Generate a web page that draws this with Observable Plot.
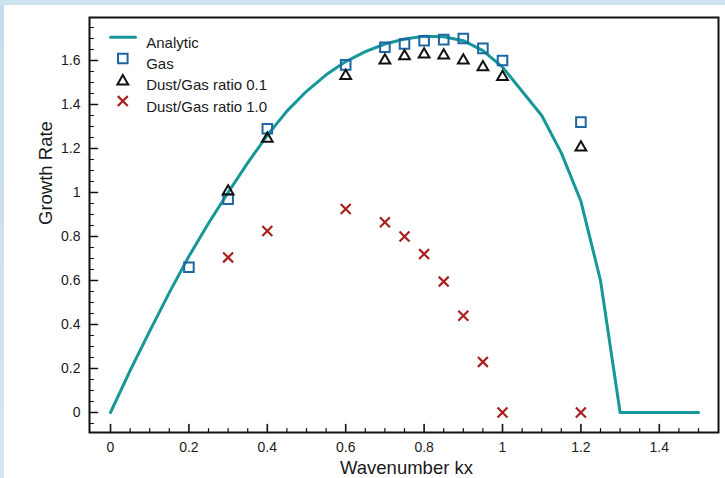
<!DOCTYPE html>
<html>
<head>
<meta charset="utf-8">
<script src="https://cdn.jsdelivr.net/npm/d3@7"></script>
<script src="https://cdn.jsdelivr.net/npm/@observablehq/plot@0.6"></script>
<style>
  html, body { margin: 0; padding: 0; }
  body { width: 725px; height: 478px; overflow: hidden; background: #fff; }
  #chart svg {
    display: block;
    background:
      linear-gradient(#cde2ef, #cde2ef) top left / 100% 5px no-repeat,
      linear-gradient(#c6dcec, #d4e6f1) top left / 4px 100% no-repeat,
      #fff;
  }
</style>
</head>
<body>
<div id="chart"></div>
<script>
// Analytic growth-rate curve, sampled every 0.05 in kx
const analyticKx = [0, 0.05, 0.1, 0.15, 0.2, 0.25, 0.3, 0.35, 0.4, 0.45, 0.5, 0.55, 0.6, 0.65, 0.7, 0.75,
  0.8, 0.85, 0.9, 0.95, 1.0, 1.05, 1.1, 1.15, 1.2, 1.25, 1.3, 1.35, 1.4, 1.45, 1.5];
const analyticRate = [0, 0.19, 0.37, 0.545, 0.71, 0.86, 1.0, 1.135, 1.26, 1.37, 1.46, 1.535, 1.595, 1.64, 1.675, 1.698,
  1.71, 1.708, 1.69, 1.645, 1.57, 1.46, 1.35, 1.18, 0.96, 0.60, 0, 0, 0, 0, 0];

// Simulation results
const gasKx = [0.2, 0.3, 0.4, 0.6, 0.7, 0.75, 0.8, 0.85, 0.9, 0.95, 1.0, 1.2];
const gasRate = [0.66, 0.97, 1.29, 1.58, 1.66, 1.675, 1.69, 1.695, 1.70, 1.655, 1.60, 1.32];

const dust01Kx = [0.3, 0.4, 0.6, 0.7, 0.75, 0.8, 0.85, 0.9, 0.95, 1.0, 1.2];
const dust01Rate = [1.005, 1.245, 1.53, 1.60, 1.62, 1.628, 1.623, 1.60, 1.57, 1.525, 1.205];

const dust1Kx = [0.3, 0.4, 0.6, 0.7, 0.75, 0.8, 0.85, 0.9, 0.95, 1.0, 1.2];
const dust1Rate = [0.705, 0.825, 0.925, 0.865, 0.80, 0.72, 0.595, 0.44, 0.23, 0, 0];

// Axis ticks and labels
const xTicks = [0, 0.2, 0.4, 0.6, 0.8, 1, 1.2, 1.4];
const xTickLabels = ["0", "0.2", "0.4", "0.6", "0.8", "1", "1.2", "1.4"];
const yTicks = [0, 0.2, 0.4, 0.6, 0.8, 1, 1.2, 1.4, 1.6];
const yTickLabels = ["0", "0.2", "0.4", "0.6", "0.8", "1", "1.2", "1.4", "1.6"];
const xMinor = d3.range(0, 31).filter(i => i % 4 !== 0).map(i => i / 20);
const yMinor = d3.range(-1, 36).filter(i => i % 4 !== 0).map(i => i / 20);

const legendLabels = ["Analytic", "Gas", "Dust/Gas ratio 0.1", "Dust/Gas ratio 1.0"];

const teal = "#179797";
const blue = "#1d66a4";
const red = "#a82020";
const ink = "#111";

const toRows = (xs, ys) => xs.map((x, i) => ({x, y: ys[i]}));
const analytic = toRows(analyticKx, analyticRate);
const gas = toRows(gasKx, gasRate);
const dust01 = toRows(dust01Kx, dust01Rate);
const dust1 = toRows(dust1Kx, dust1Rate);

// A straight segment pointing "up" before rotation, used for inward ticks and the legend swatch
const segment = {draw(context, l) { context.moveTo(0, 0); context.lineTo(0, -l); }};

const fmt = (ticks, labels) => d => labels[ticks.indexOf(d)] ?? "";

const legendRow = 21.3;
const legendTop = 19.7;
const legendMarks = [
  Plot.vector([0], {frameAnchor: "top-left", dx: 21, dy: legendTop, length: 25, rotate: 90, anchor: "start",
    shape: segment, stroke: teal, strokeWidth: 3}),
  Plot.dot([0], {frameAnchor: "top-left", dx: 33.3, dy: legendTop + legendRow, symbol: "square", r: 5.4,
    stroke: blue, strokeWidth: 2, fill: "none"}),
  Plot.dot([0], {frameAnchor: "top-left", dx: 33.3, dy: legendTop + 2 * legendRow + 1.5, symbol: "triangle", r: 4,
    stroke: ink, strokeWidth: 2, fill: "none"}),
  Plot.dot([0], {frameAnchor: "top-left", dx: 33.3, dy: legendTop + 3 * legendRow, symbol: "times", r: 4.6,
    stroke: red, strokeWidth: 2.2, fill: "none"}),
  ...legendLabels.map((label, i) => Plot.text([label], {frameAnchor: "top-left", dx: 56.7, dy: legendTop + i * legendRow,
    textAnchor: "start", fontSize: 15, fill: "#1a1a1a"}))
];

const chart = Plot.plot({
  width: 725,
  height: 478,
  marginLeft: 89,
  marginRight: 7,
  marginTop: 17,
  marginBottom: 46,
  style: {fontFamily: "'Liberation Sans', Arial, Helvetica, sans-serif", fontSize: "14px", color: "#1a1a1a"},
  x: {domain: [-0.0536, 1.551]},
  y: {domain: [-0.0909, 1.7955]},
  marks: [
    // inward ticks
    Plot.vector(xTicks, {x: d => d, frameAnchor: "bottom", length: 8, rotate: 0, anchor: "start", shape: segment, stroke: ink, strokeWidth: 1.6}),
    Plot.vector(xMinor, {x: d => d, frameAnchor: "bottom", length: 4, rotate: 0, anchor: "start", shape: segment, stroke: ink, strokeWidth: 1.2}),
    Plot.vector(yTicks, {y: d => d, frameAnchor: "left", length: 8, rotate: 90, anchor: "start", shape: segment, stroke: ink, strokeWidth: 1.6}),
    Plot.vector(yMinor, {y: d => d, frameAnchor: "left", length: 4, rotate: 90, anchor: "start", shape: segment, stroke: ink, strokeWidth: 1.2}),
    Plot.axisX({ticks: xTicks, tickFormat: fmt(xTicks, xTickLabels), tickSize: 0, tickPadding: 10, label: null, fontSize: 14}),
    Plot.axisY({ticks: yTicks, tickFormat: fmt(yTicks, yTickLabels), tickSize: 0, tickPadding: 9, label: null, fontSize: 14}),
    // axis titles
    Plot.text(["Wavenumber kx"], {frameAnchor: "bottom", dy: 41, dx: 2.5, fontSize: 18.5, fill: "#1a1a1a"}),
    Plot.text(["Growth Rate"], {frameAnchor: "left", dx: -43.5, rotate: -90, fontSize: 18.5, fill: "#1a1a1a"}),
    // data
    Plot.line(analytic, {x: "x", y: "y", stroke: teal, strokeWidth: 3}),
    Plot.dot(gas, {x: "x", y: "y", symbol: "square", r: 5.4, stroke: blue, strokeWidth: 2, fill: "none"}),
    Plot.dot(dust01, {x: "x", y: "y", symbol: "triangle", r: 4, stroke: ink, strokeWidth: 2, fill: "none"}),
    Plot.dot(dust1, {x: "x", y: "y", symbol: "times", r: 4.6, stroke: red, strokeWidth: 2.2, fill: "none"}),
    ...legendMarks,
    Plot.frame({stroke: ink, strokeWidth: 2})
  ]
});

document.getElementById("chart").append(chart);
</script>
</body>
</html>
